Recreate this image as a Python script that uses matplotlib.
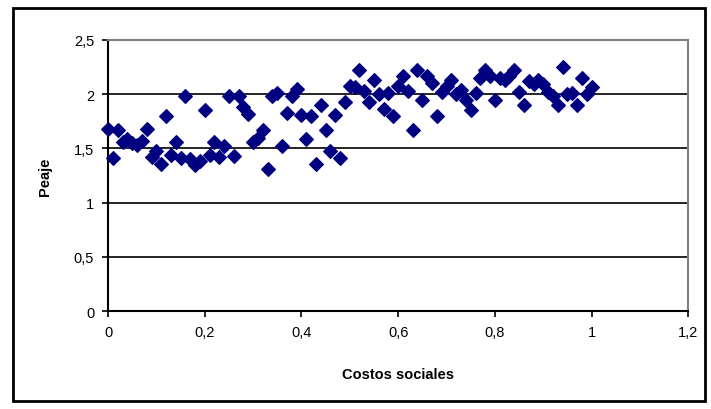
import matplotlib.pyplot as plt
from matplotlib.patches import Rectangle
from matplotlib.ticker import FuncFormatter

# data
costos = [i / 100 for i in range(101)]
peaje = [1.68, 1.41, 1.67, 1.56, 1.59, 1.55, 1.53, 1.57, 1.68, 1.42,
         1.48, 1.36, 1.80, 1.44, 1.56, 1.41, 1.98, 1.40, 1.35, 1.38,
         1.85, 1.44, 1.56, 1.42, 1.52, 1.98, 1.43, 1.98, 1.88, 1.82,
         1.56, 1.60, 1.67, 1.31, 1.98, 2.01, 1.52, 1.83, 1.98, 2.05,
         1.81, 1.59, 1.80, 1.36, 1.90, 1.67, 1.48, 1.81, 1.41, 1.93,
         2.08, 2.07, 2.22, 2.03, 1.93, 2.13, 2.00, 1.86, 2.01, 1.80,
         2.08, 2.17, 2.03, 1.67, 2.22, 1.95, 2.17, 2.10, 1.80, 2.02,
         2.08, 2.13, 2.00, 2.04, 1.95, 1.85, 2.01, 2.15, 2.22, 2.17,
         1.95, 2.15, 2.13, 2.17, 2.22, 2.02, 1.90, 2.12, 2.09, 2.13,
         2.09, 2.02, 1.98, 1.90, 2.25, 2.00, 2.01, 1.90, 2.15, 2.00,
         2.07]
xticks = [0, 0.2, 0.4, 0.6, 0.8, 1, 1.2]
yticks = [0, 0.5, 1, 1.5, 2, 2.5]

plt.rcParams['font.family'] = ['Liberation Sans', 'DejaVu Sans']

fig = plt.figure(figsize=(7.11, 4.10), dpi=100)
ax = fig.add_axes([0.152, 0.239, 0.816, 0.661])

ax.scatter(costos, peaje, marker='D', s=48, color='#000080', zorder=3, clip_on=False)

ax.set_xlim(0, 1.2)
ax.set_ylim(0, 2.5)
ax.set_xticks(xticks)
ax.set_yticks(yticks)
fmt = FuncFormatter(lambda v, p: ('%g' % v).replace('.', ','))
ax.xaxis.set_major_formatter(fmt)
ax.yaxis.set_major_formatter(fmt)
ax.tick_params(direction='out', length=4, width=1.2, labelsize=10.5, colors='black', pad=6)

for y in yticks[1:-1]:
    ax.axhline(y, color='black', lw=1.2, zorder=1)

ax.spines['left'].set_linewidth(1.5)
ax.spines['bottom'].set_linewidth(1.5)
ax.spines['top'].set_color('#808080')
ax.spines['right'].set_color('#808080')
ax.spines['top'].set_linewidth(1.5)
ax.spines['right'].set_linewidth(1.5)

ax.set_xlabel('Costos sociales', fontsize=10.5, fontweight='bold', labelpad=20)
ax.set_ylabel('Peaje', fontsize=10.5, fontweight='bold', labelpad=16)

fig.patches.append(Rectangle((0.018, 0.02), 0.974, 0.958, transform=fig.transFigure,
                             fill=False, edgecolor='black', lw=2))

plt.savefig('out.png', dpi=100)
